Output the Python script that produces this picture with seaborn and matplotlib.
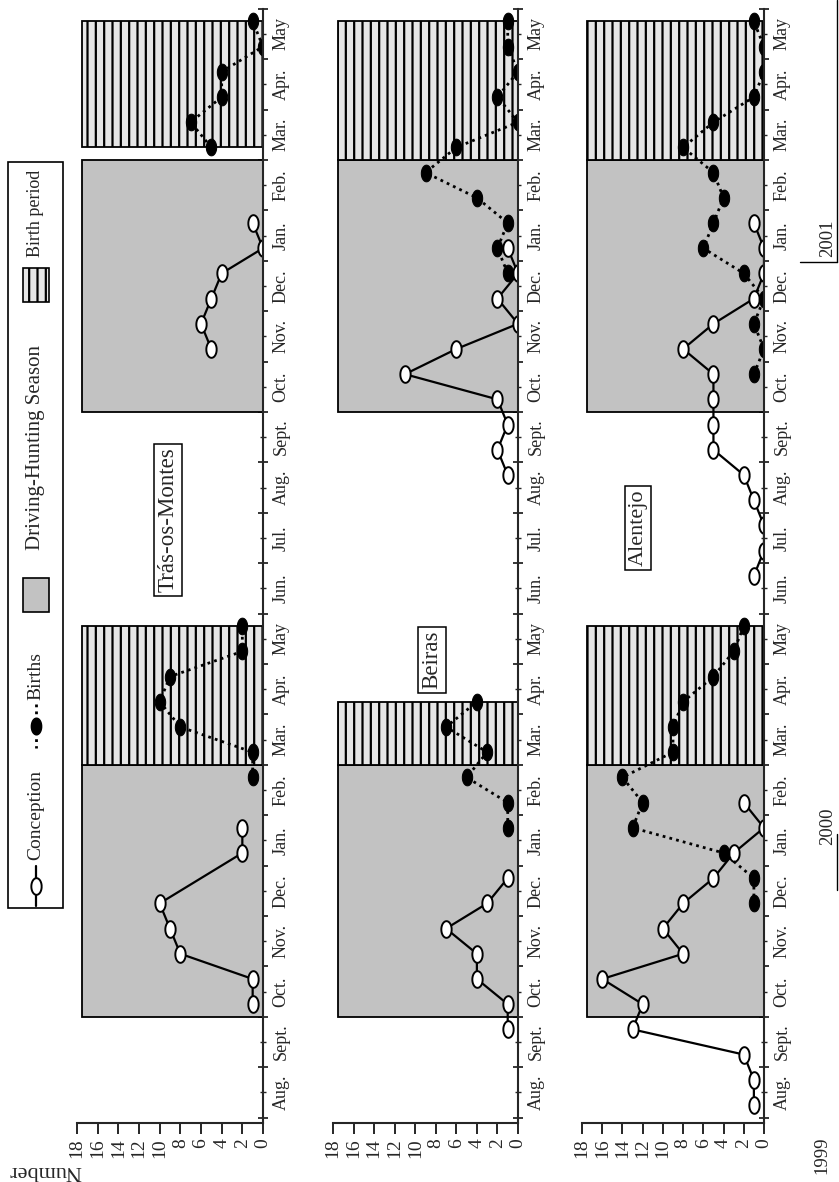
import numpy as np
import matplotlib
matplotlib.use("Agg")
import matplotlib.pyplot as plt
from matplotlib.patches import Rectangle
from matplotlib.lines import Line2D
import seaborn as sns

# months along the time axis (Aug 1999 -> May 2001)
month_labels = ["Aug.", "Sept.", "Oct.", "Nov.", "Dec.", "Jan.", "Feb.", "Mar.", "Apr.", "May",
                "Jun.", "Jul.", "Aug.", "Sept.", "Oct.", "Nov.", "Dec.", "Jan.", "Feb.", "Mar.",
                "Apr.", "May"]
value_ticks = [0, 2, 4, 6, 8, 10, 12, 14, 16, 18]

# half-month index: 0 = first half of Aug 1999, 1 = second half of Aug 1999, ...
tras_conc_h = [[4, 5, 6, 7, 8, 10, 11], [30, 31, 32, 33, 34, 35]]
tras_conc_v = [[1, 1, 8, 9, 10, 2, 2], [5, 6, 5, 4, 0, 1]]
tras_birth_h = [[13, 14, 15, 16, 17, 18, 19], [38, 39, 40, 41, 42, 43]]
tras_birth_v = [[1, 1, 8, 10, 9, 2, 2], [5, 7, 4, 4, 0, 1]]

beiras_conc_h = [[3, 4, 5, 6, 7, 8, 9], [25, 26, 27, 28, 29, 30, 31, 32, 33, 34]]
beiras_conc_v = [[1, 1, 4, 4, 7, 3, 1], [1, 2, 1, 2, 11, 6, 0, 2, 0, 1]]
beiras_birth_h = [[11, 12, 13, 14, 15, 16], [33, 34, 35, 36, 37, 38, 39, 40, 41, 42, 43]]
beiras_birth_v = [[1, 1, 5, 3, 7, 4], [1, 2, 1, 4, 9, 6, 0, 2, 0, 1, 1]]

alen_conc_h = [list(range(0, 13)), list(range(21, 36))]
alen_conc_v = [[1, 1, 2, 13, 12, 16, 8, 10, 8, 5, 3, 0, 2],
               [1, 0, 0, 1, 2, 5, 5, 5, 5, 8, 5, 1, 0, 0, 1]]
alen_birth_h = [list(range(8, 20)), list(range(29, 44))]
alen_birth_v = [[1, 1, 4, 13, 12, 14, 9, 9, 8, 5, 3, 2],
                [1, 0, 1, 0, 2, 6, 5, 4, 5, 8, 5, 1, 0, 0, 1]]

# shaded periods, in months from 1 Aug 1999
hunting_spans = [(2, 7), (14, 19)]
tras_birth_spans = [(7, 9.75), (19.25, 21.75)]
beiras_birth_spans = [(7, 8.25), (19, 21.75)]
alen_birth_spans = [(7, 9.75), (19, 21.75)]

sns.set_style("ticks")
plt.rcParams["font.family"] = ["Liberation Serif", "DejaVu Serif"]
plt.rcParams["hatch.linewidth"] = 1.6

W, H = 839, 1182
fig = plt.figure(figsize=(W / 100, H / 100), dpi=100)

# tall ellipse marker, like the scanned circles
ang = np.linspace(0, 2 * np.pi, 40)
ell = np.column_stack([0.62 * np.cos(ang), np.sin(ang)])


def px_box(x0, x1, y_top, y_bot):
    return [x0 / W, 1 - y_bot / H, (x1 - x0) / W, (y_bot - y_top) / H]


def draw_panel(ax, conc_h, conc_v, birth_h, birth_v, birth_spans):
    for t0, t1 in hunting_spans:
        ax.add_patch(Rectangle((0, t0), 17.5, t1 - t0, facecolor="#c2c2c2",
                               edgecolor="black", lw=1.3, zorder=1))
    for t0, t1 in birth_spans:
        ax.add_patch(Rectangle((0, t0), 17.5, t1 - t0, facecolor="#e6e6e6",
                               edgecolor="black", hatch="||", lw=1.3, zorder=1))
    for hh, vv in zip(conc_h, conc_v):
        t = np.array(hh) / 2 + 0.25
        sns.lineplot(x=vv, y=t, orient="y", ax=ax, color="black", lw=1.6,
                     marker=ell, ms=12, mfc="white", mec="black", mew=1.4,
                     legend=False, zorder=4)
    for hh, vv in zip(birth_h, birth_v):
        t = np.array(hh) / 2 + 0.25
        sns.lineplot(x=vv, y=t, orient="y", ax=ax, color="black", lw=2.0,
                     linestyle=(0, (1, 1.5)), marker=ell, ms=12, mfc="black",
                     mec="black", legend=False, zorder=5)

    ax.set_xlim(18, 0)
    ax.set_ylim(-0.1, 22)
    ax.set_xlabel("")
    ax.set_ylabel("")
    ax.set_facecolor("none")
    for s in ["top", "left"]:
        ax.spines[s].set_visible(False)
    for s in ["right", "bottom"]:
        ax.spines[s].set_linewidth(1.5)
        ax.spines[s].set_zorder(6)

    ax.set_xticks(value_ticks)
    ax.set_xticklabels([str(v) for v in value_ticks], rotation=90, fontsize=14)
    ax.tick_params(axis="x", direction="out", length=8, width=1.4, pad=3)

    ax.yaxis.tick_right()
    ax.set_yticks(np.arange(0, 23))
    ax.set_yticklabels([])
    ax.set_yticks(np.arange(len(month_labels)) + 0.5, minor=True)
    ax.set_yticklabels(month_labels, minor=True, rotation=90, fontsize=13,
                       va="center")
    ax.tick_params(axis="y", which="major", direction="inout", length=7, width=1.3)
    ax.tick_params(axis="y", which="minor", direction="inout", length=4, width=1.0,
                   pad=5)


ax1 = fig.add_axes(px_box(77, 263, 8.8, 1122.6))
ax2 = fig.add_axes(px_box(333, 518, 8.8, 1122.6))
ax3 = fig.add_axes(px_box(582, 764, 8.8, 1122.6))

draw_panel(ax1, tras_conc_h, tras_conc_v, tras_birth_h, tras_birth_v, tras_birth_spans)
draw_panel(ax2, beiras_conc_h, beiras_conc_v, beiras_birth_h, beiras_birth_v, beiras_birth_spans)
draw_panel(ax3, alen_conc_h, alen_conc_v, alen_birth_h, alen_birth_v, alen_birth_spans)

# overlay in pixel coordinates for legend and annotations
ov = fig.add_axes([0, 0, 1, 1])
ov.set_xlim(0, W)
ov.set_ylim(H, 0)
ov.axis("off")
ov.set_zorder(10)

# legend box
ov.add_patch(Rectangle((8, 162), 55, 746, facecolor="white", edgecolor="black", lw=1.2))
ov.text(36, 213, "Birth period", rotation=90, ha="center", va="center", fontsize=13)
ov.add_patch(Rectangle((23, 268), 26, 34, facecolor="#e6e6e6", edgecolor="black",
                       hatch="||", lw=1.2))
ov.text(36, 447, "Driving-Hunting Season", rotation=90, ha="center", va="center", fontsize=15)
ov.add_patch(Rectangle((23, 578), 26, 34, facecolor="#c2c2c2", edgecolor="black", lw=1.2))
ov.text(36, 676, "Births", rotation=90, ha="center", va="center", fontsize=14)
ov.add_line(Line2D([36, 36], [704, 748], color="black", lw=2.0, linestyle=(0, (1, 1.5))))
ov.add_line(Line2D([36], [726], marker=ell, ms=12, mfc="black", mec="black"))
ov.text(36, 815, "Conception", rotation=90, ha="center", va="center", fontsize=14)
ov.add_line(Line2D([36, 36], [866, 906], color="black", lw=1.6))
ov.add_line(Line2D([36], [886], marker=ell, ms=12, mfc="white", mec="black", mew=1.4))

# region names
box = dict(boxstyle="square,pad=0.15", facecolor="white", edgecolor="black", lw=1.1)
ov.text(168, 520, "Trás-os-Montes", rotation=90, ha="center", va="center", fontsize=16.5, bbox=box)
ov.text(432, 660, "Beiras", rotation=90, ha="center", va="center", fontsize=16.5, bbox=box)
ov.text(638, 528, "Alentejo", rotation=90, ha="center", va="center", fontsize=16, bbox=box)

# years
ov.text(822, 1155, "1999", rotation=90, ha="center", va="center", fontsize=13.5)
ov.text(828, 826, "2000", rotation=90, ha="center", va="center", fontsize=13.5)
ov.text(828, 238, "2001", rotation=90, ha="center", va="center", fontsize=13.5)
ov.add_line(Line2D([837, 837], [0, 262], color="black", lw=1.0))
ov.add_line(Line2D([800, 837], [262, 262], color="black", lw=1.0))
ov.add_line(Line2D([837, 837], [834, 890], color="black", lw=1.0))

ov.text(45, 1170, "Number", rotation=180, ha="center", va="center", fontsize=16)

fig.savefig("out.png", dpi=100)
